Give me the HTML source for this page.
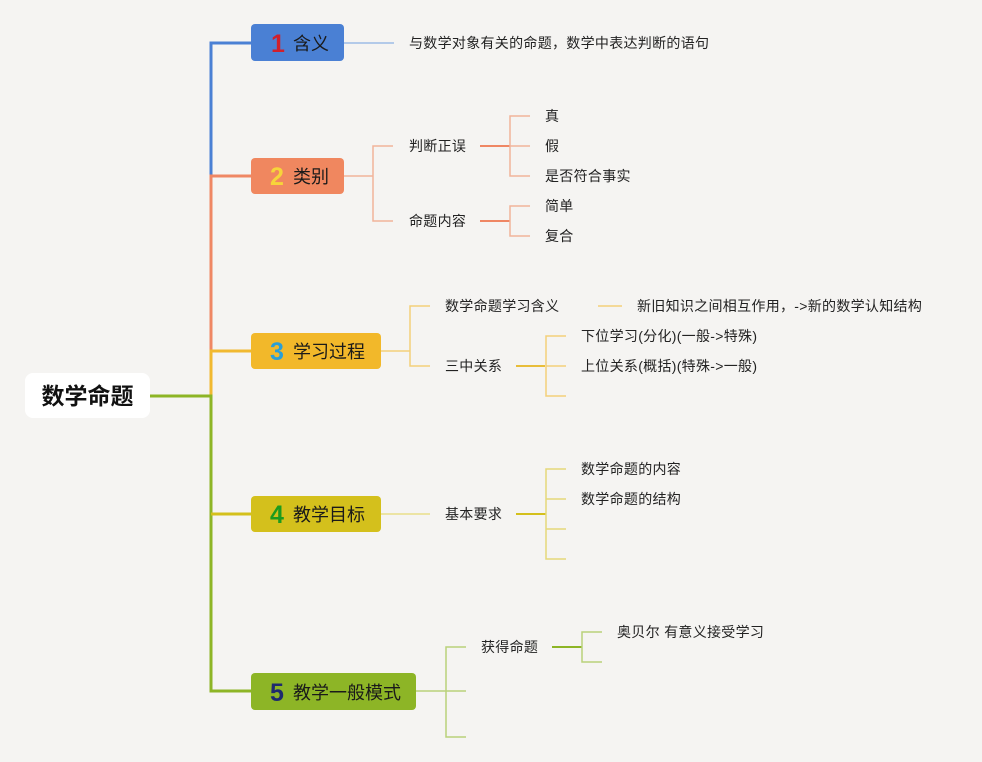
<!DOCTYPE html>
<html><head><meta charset="utf-8"><style>
html,body{margin:0;padding:0;background:#f5f4f2;}
svg{display:block;}
text{font-family:"Liberation Sans","Noto Sans CJK SC",sans-serif;}
.t{font-size:14px;fill:#222;letter-spacing:0.3px;}
.b{font-size:18px;fill:#1a1a1a;}
.n{font-size:25px;font-weight:bold;}
</style></head><body>
<svg width="982" height="762" viewBox="0 0 982 762" xmlns="http://www.w3.org/2000/svg">
<rect width="982" height="762" fill="#f5f4f2"/>
<g fill="none" stroke-width="3">
<path d="M251 43H211V176" stroke="#4a80d4"/>
<path d="M251 176H211V350" stroke="#ef8764"/>
<path d="M251 351H211V396" stroke="#f1b930"/>
<path d="M150 396H211V691H251" stroke="#8db526"/>
<path d="M211 514H251" stroke="#d4c01c"/>
</g>
<g fill="none" stroke-width="1.5">
<path d="M344 43H394" stroke="#9dbbe6"/>
<path d="M344 176H373M393 146H373V221H393" stroke="#f2b39a"/>
<path d="M480 146H510" stroke="#ef8764" stroke-width="2"/>
<path d="M530 116H510V176H530M510 146H530" stroke="#f2b39a"/>
<path d="M480 221H510" stroke="#ef8764" stroke-width="2"/>
<path d="M530 206H510V236H530" stroke="#f2b39a"/>
<path d="M381 351H410M430 306H410V366H430" stroke="#f3d07a"/>
<path d="M598 306H622" stroke="#f3d07a"/>
<path d="M516 366H545" stroke="#e8bd3a" stroke-width="2"/>
<path d="M566 336H546V396H566M546 366H566" stroke="#f3d07a"/>
<path d="M381 514H430" stroke="#e9df8a"/>
<path d="M516 514H546" stroke="#d4c01c" stroke-width="2"/>
<path d="M566 469H546V559H566M546 499H566M546 529H566" stroke="#e5d87a"/>
<path d="M416 691H446M466 647H446V737H466M446 691H466" stroke="#b9d27a"/>
<path d="M552 647H582" stroke="#8db526" stroke-width="2"/>
<path d="M602 632H582V662H602" stroke="#b9d27a"/>
</g>
<rect x="25" y="373" width="125" height="45" rx="8" fill="#fff"/>
<text x="87.5" y="404" text-anchor="middle" font-size="23" font-weight="bold" fill="#111">数学命题</text>
<rect x="251" y="24" width="93" height="37" rx="4" fill="#4a80d4"/>
<text x="271" y="52" class="n" fill="#d0202c">1</text><text x="293" y="50" class="b">含义</text>
<rect x="251" y="158" width="93" height="36" rx="4" fill="#f0875f"/>
<text x="270" y="185" class="n" fill="#f7d43a">2</text><text x="293" y="183" class="b">类别</text>
<rect x="251" y="333" width="130" height="36" rx="4" fill="#f2b82a"/>
<text x="270" y="360" class="n" fill="#2a9fd6">3</text><text x="293" y="358" class="b">学习过程</text>
<rect x="251" y="496" width="130" height="36" rx="4" fill="#d4c01c"/>
<text x="270" y="523" class="n" fill="#1d9b1d">4</text><text x="293" y="521" class="b">教学目标</text>
<rect x="251" y="673" width="165" height="37" rx="4" fill="#8db526"/>
<text x="270" y="701" class="n" fill="#1e2a6e">5</text><text x="293" y="699" class="b">教学一般模式</text>
<text x="409" y="48" class="t">与数学对象有关的命题，数学中表达判断的语句</text>
<text x="409" y="151" class="t">判断正误</text>
<text x="409" y="226" class="t">命题内容</text>
<text x="545" y="121" class="t">真</text>
<text x="545" y="151" class="t">假</text>
<text x="545" y="181" class="t">是否符合事实</text>
<text x="545" y="211" class="t">简单</text>
<text x="545" y="241" class="t">复合</text>
<text x="445" y="311" class="t">数学命题学习含义</text>
<text x="637" y="311" class="t">新旧知识之间相互作用，-&gt;新的数学认知结构</text>
<text x="445" y="371" class="t">三中关系</text>
<text x="581" y="341" class="t">下位学习(分化)(一般-&gt;特殊)</text>
<text x="581" y="371" class="t">上位关系(概括)(特殊-&gt;一般)</text>
<text x="445" y="519" class="t">基本要求</text>
<text x="581" y="474" class="t">数学命题的内容</text>
<text x="581" y="504" class="t">数学命题的结构</text>
<text x="481" y="652" class="t">获得命题</text>
<text x="617" y="637" class="t">奥贝尔 有意义接受学习</text>
</svg>
</body></html>
